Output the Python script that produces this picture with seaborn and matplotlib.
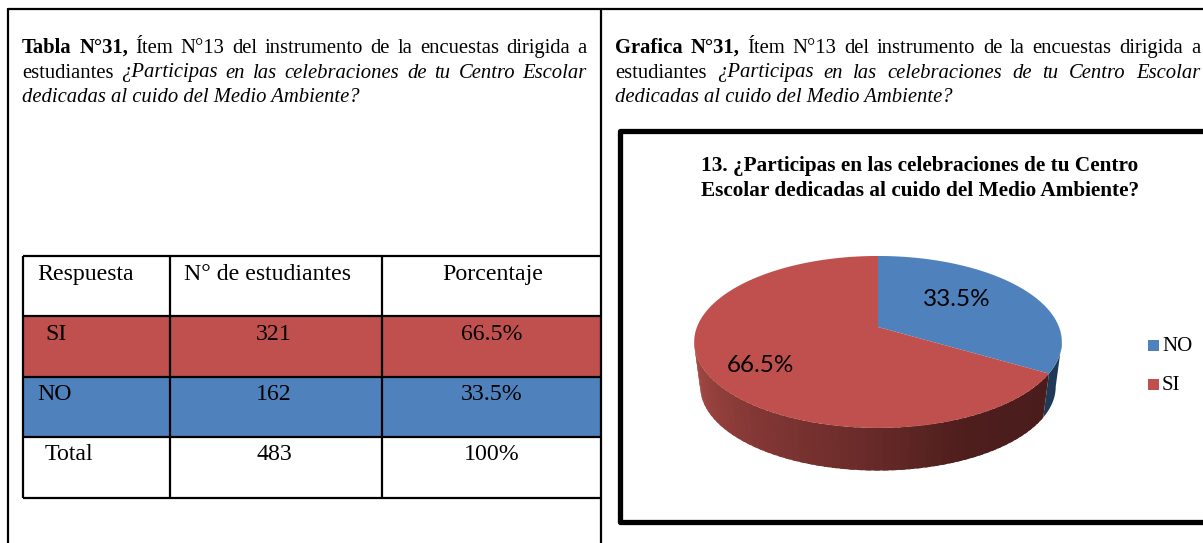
import numpy as np
import matplotlib
matplotlib.use('Agg')
import matplotlib.pyplot as plt
import seaborn as sns

# data
categories = ['NO', 'SI']
percentages = [33.5, 66.5]
percent_labels = ['33.5%', '66.5%']
students = ['321', '162', '483']
table_percent = ['66.5%', '33.5%', '100%']
row_names = ['SI', 'NO', 'Total']
header = ['Respuesta', 'N° de estudiantes', 'Porcentaje']
chart_title = ['13. ¿Participas en las celebraciones de tu Centro',
               'Escolar dedicadas al cuido del Medio Ambiente?']
line_2 = 'estudiantes ¿Participas en las celebraciones de tu Centro Escolar'
line_3 = 'dedicadas al cuido del Medio Ambiente?'
line_1_rest = 'Ítem N°13 del instrumento de la encuestas dirigida a'

BLUE = '#4F81BD'
RED = '#C0504D'

sns.set_theme(style='white')
plt.rcParams['font.family'] = ['Liberation Serif', 'DejaVu Serif']
plt.rcParams['text.color'] = 'black'

fig = plt.figure(figsize=(12.03, 5.43), dpi=100)
ax = fig.add_axes([0, 0, 1, 1])
ax.set_xlim(0, 1203)
ax.set_ylim(543, 0)
ax.axis('off')
renderer = fig.canvas.get_renderer()


def justified(y, x0, x1, words, size=14.9):
    # words are (text, weight, style), spread so the line fills x0..x1
    items = []
    for word, weight, style in words:
        items.append(ax.text(x0, y, word, fontsize=size, fontweight=weight,
                             fontstyle=style, va='baseline'))
    widths = [t.get_window_extent(renderer).width for t in items]
    gap = (x1 - x0 - sum(widths)) / max(len(items) - 1, 1)
    x = x0
    for t, w in zip(items, widths):
        t.set_x(x)
        x += w + gap


def caption(x0, x1, first_word):
    first = [(first_word, 'bold', 'normal'), ('N°31,', 'bold', 'normal')]
    first += [(w, 'normal', 'normal') for w in line_1_rest.split()]
    justified(53, x0, x1, first)
    words = line_2.split()
    second = [(words[0], 'normal', 'normal')] + [(w, 'normal', 'italic') for w in words[1:]]
    justified(77.5, x0, x1, second)
    ax.text(x0, 102, line_3, fontsize=14.9, fontstyle='italic', va='baseline')


# page frame
ax.plot([8, 8], [543, 9], color='black', lw=1.6)
ax.plot([8, 1203], [9, 9], color='black', lw=1.6)
ax.plot([601, 601], [9, 543], color='black', lw=1.6)

caption(22, 587, 'Tabla')
caption(615, 1200, 'Grafica')

# table on the left
col_edges = [22.5, 170, 382, 601]
row_edges = [256, 316, 377, 437, 498]
ax.fill_between(col_edges[::3], row_edges[1], row_edges[2], color=RED, lw=0)
ax.fill_between(col_edges[::3], row_edges[2], row_edges[3], color=BLUE, lw=0)
ax.hlines(row_edges, col_edges[0], col_edges[-1], color='black', lw=1.6)
ax.vlines(col_edges[:-1], row_edges[0], row_edges[-1], color='black', lw=1.6)

TABLE_SIZE = 17.2
ax.text(37, 280, header[0], fontsize=TABLE_SIZE, va='baseline')
ax.text(268, 280, header[1], fontsize=TABLE_SIZE, va='baseline', ha='center')
ax.text(493, 280, header[2], fontsize=TABLE_SIZE, va='baseline', ha='center')
name_x = [45, 37, 45]
for i in range(3):
    y = 340 + i * 60
    ax.text(name_x[i], y, row_names[i], fontsize=TABLE_SIZE, va='baseline')
    ax.text(274, y, students[i], fontsize=TABLE_SIZE, va='baseline', ha='center')
    ax.text(492, y, table_percent[i], fontsize=TABLE_SIZE, va='baseline', ha='center')

# chart box
ax.plot([1203, 620, 620, 1203], [131, 131, 522, 522], color='black', lw=3.8,
        solid_joinstyle='round')
ax.text(920, 171, chart_title[0], fontsize=15.3, fontweight='bold', ha='center', va='baseline')
ax.text(920, 196, chart_title[1], fontsize=15.3, fontweight='bold', ha='center', va='baseline')

# pie drawn as a disc in perspective, the apex sits above the ellipse centre
PIE_X = 878
K = 0.174


def rim(theta_deg, rx, ry, cy, lift):
    t = np.radians(theta_deg)
    u, v = np.cos(t), np.sin(t)
    den = 1 + K * v
    return PIE_X + rx * u / den, cy - (ry * v + lift) / den


top = dict(rx=181, ry=86, cy=342, lift=15)
low = dict(rx=175, ry=84, cy=387, lift=15)

start_no = 90
end_no = start_no - 360 * percentages[0] / 100
end_si = end_no - 360 * percentages[1] / 100

# side wall, the red part gets darker towards the right
wall_shades = sns.blend_palette(['#A84B46', '#8A3B38', '#6F2E2C', '#4E1E1D', '#4A1C1C'], 60)
edges = np.linspace(190, 360 + end_no, 61)
for i in range(60):
    th = np.linspace(edges[i], min(edges[i + 1] + 1.5, edges[-1]), 4)
    xa, ya = rim(th, **top)
    xb, yb = rim(th[::-1], **low)
    ax.fill(np.r_[xa, xb], np.r_[ya, yb], color=wall_shades[i], lw=0)
th = np.linspace(end_no, -10, 30)
xa, ya = rim(th, **top)
xb, yb = rim(th[::-1], **low)
ax.fill(np.r_[xa, xb], np.r_[ya, yb], color='#1F3A57', lw=0)

# top faces
for a, b, colour in [(start_no, end_no, BLUE), (end_no, end_si, RED)]:
    th = np.linspace(a, b, 200)
    x, y = rim(th, **top)
    ax.fill(np.r_[PIE_X, x], np.r_[top['cy'] - top['lift'], y], color=colour, lw=0)

ax.text(957, 300, percent_labels[0], family='Lato', fontsize=17.5, ha='center', va='center')
ax.text(760, 366, percent_labels[1], family='Lato', fontsize=17.5, ha='center', va='center')

# legend
legend_y = [345, 384]
for name, colour, y in zip(categories, [BLUE, RED], legend_y):
    ax.fill_between([1148, 1159], y - 5.5, y + 5.5, color=colour, lw=0)
    ax.text(1162, y + 6, name, fontsize=15, va='baseline')

fig.savefig('out.png', dpi=100)
